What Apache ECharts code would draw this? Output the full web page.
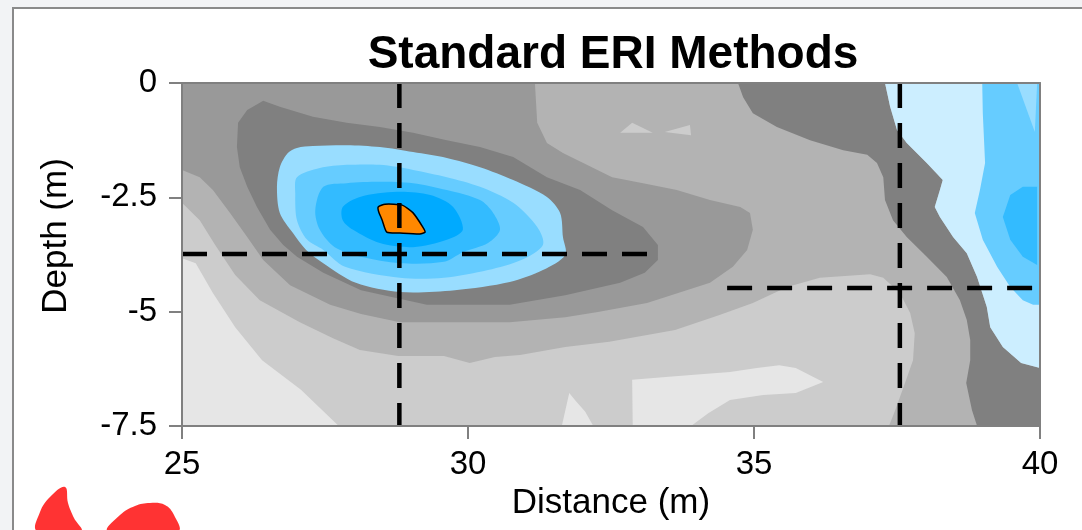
<!DOCTYPE html>
<html><head><meta charset="utf-8">
<script src="https://cdn.jsdelivr.net/npm/echarts@6/dist/echarts.min.js"></script>
<style>html,body{margin:0;padding:0;background:#f2f3f5;}#c{width:1082px;height:530px;}</style>
</head><body><div id="c"></div>
<script>
// ---- axis ticks ----
const xTicks = [25, 30, 35, 40];
const yTicks = [-7.5, -5, -2.5, 0];

// ---- contour regions: [distance (m), depth (m)] ----
const regionBase = [[25,0],[40,0],[40,-7.5],[25,-7.5]];
const regionGray80 = [[25,-2.62],[25.31,-3.00],[25.58,-3.54],[25.93,-4.20],[26.36,-4.75],[27.06,-5.23],[27.64,-5.58],[28.11,-5.84],[28.78,-5.97],[29.58,-5.97],[30.03,-6.12],[30.47,-5.99],[30.91,-5.95],[31.70,-5.77],[32.47,-5.66],[33.62,-5.40],[34.41,-5.07],[34.98,-4.81],[35.58,-4.46],[36.15,-4.26],[37.03,-4.18],[37.26,-4.26],[37.55,-4.59],[37.73,-5.03],[37.81,-5.47],[37.78,-6.06],[37.64,-6.56],[37.47,-7.15],[37.36,-7.5],[25,-7.5]];
const regionGray90Wedge = [[25,-3.83],[25.24,-3.94],[25.54,-4.59],[25.93,-5.34],[26.40,-6.06],[27.08,-6.71],[27.74,-7.5],[25,-7.5]];
const regionGray90Spike = [[31.64,-7.5],[31.77,-6.78],[31.87,-6.93],[32.05,-7.19],[32.19,-7.5]];
const regionGray90Patch = [[32.88,-7.5],[32.87,-6.49],[33.62,-6.41],[34.58,-6.32],[35.05,-6.23],[35.44,-6.17],[35.73,-6.23],[36.21,-6.54],[35.73,-6.78],[35.16,-6.82],[34.58,-6.93],[34.20,-7.22],[33.90,-7.5]];
const regionGray80TriA = [[32.66,-1.09],[32.87,-0.87],[33.23,-1.09]];
const regionGray80TriB = [[33.44,-1.07],[33.88,-0.92],[33.90,-1.14]];
const regionGray60 = [[25,0],[31.17,0],[31.21,-0.87],[31.38,-1.31],[31.66,-1.53],[32.52,-2.06],[33.06,-2.19],[33.65,-2.34],[34.23,-2.56],[34.76,-2.71],[34.93,-2.84],[34.98,-3.21],[34.88,-3.65],[34.63,-4.02],[34.23,-4.37],[33.13,-4.81],[32.27,-5.01],[31.70,-5.12],[30.73,-5.23],[29.58,-5.23],[28.81,-5.23],[28.13,-5.05],[27.59,-4.85],[26.89,-4.42],[26.42,-3.87],[26.14,-3.37],[25.84,-2.84],[25.54,-2.34],[25.31,-2.06],[25,-1.90]];
const regionGray50Left = [[26.42,-0.39],[26.71,-0.52],[27.29,-0.74],[27.88,-0.87],[28.46,-0.96],[29.04,-1.09],[29.63,-1.25],[30.21,-1.40],[30.79,-1.62],[31.38,-2.06],[31.96,-2.34],[32.52,-2.78],[33.06,-3.15],[33.32,-3.54],[33.32,-3.87],[33.09,-4.15],[32.66,-4.37],[31.70,-4.64],[30.73,-4.85],[29.28,-4.85],[28.13,-4.53],[27.47,-4.15],[27.01,-3.80],[26.77,-3.54],[26.54,-3.21],[26.31,-2.71],[26.14,-2.27],[26.01,-1.84],[25.96,-1.40],[25.98,-0.87],[26.14,-0.59]];
const regionGray50Right = [[34.72,0],[34.81,-0.31],[34.98,-0.66],[35.40,-0.96],[35.98,-1.25],[36.56,-1.47],[36.98,-1.57],[37.15,-1.75],[37.26,-2.06],[37.29,-2.56],[37.43,-3.00],[37.67,-3.37],[38.02,-3.80],[38.37,-4.24],[38.60,-4.75],[38.72,-5.18],[38.78,-5.62],[38.78,-6.06],[38.71,-6.56],[38.81,-7.15],[38.90,-7.5],[40,-7.5],[40,-6.23],[39.67,-6.12],[39.35,-5.77],[39.13,-5.34],[39.07,-4.90],[38.90,-4.24],[38.72,-3.72],[38.48,-3.37],[38.25,-2.93],[38.16,-2.71],[38.25,-2.34],[38.30,-2.12],[38.02,-1.75],[37.67,-1.31],[37.50,-1.03],[37.38,-0.52],[37.29,0]];
const regionBlue1Right = [[37.29,0],[37.38,-0.52],[37.50,-1.03],[37.67,-1.31],[38.02,-1.75],[38.30,-2.12],[38.25,-2.34],[38.16,-2.71],[38.25,-2.93],[38.48,-3.37],[38.72,-3.72],[38.90,-4.24],[39.07,-4.90],[39.13,-5.34],[39.35,-5.77],[39.67,-6.12],[40,-6.23],[40,0]];
const regionBlue3Right = [[38.99,0],[39.00,-0.66],[39.04,-1.75],[38.95,-2.34],[38.86,-2.84],[39.00,-3.43],[39.25,-4.02],[39.48,-4.46],[39.70,-4.75],[39.88,-4.85],[40,-4.85],[40,0]];
const regionBlue2Right = [[39.60,0],[39.91,-1.07],[39.95,0]];
const regionBlue4Right = [[39.48,-2.45],[39.70,-2.27],[39.95,-2.27],[39.95,-3.98],[39.70,-3.80],[39.48,-3.43],[39.35,-2.93]];
const regionBlue2Left = [[27.01,-1.42],[27.29,-1.38],[27.88,-1.36],[28.46,-1.40],[29.04,-1.51],[29.63,-1.64],[30.21,-1.84],[30.79,-2.12],[31.38,-2.49],[31.61,-2.84],[31.66,-3.37],[31.70,-3.76],[31.31,-4.09],[30.73,-4.35],[29.77,-4.53],[28.81,-4.57],[28.04,-4.37],[27.47,-3.94],[27.17,-3.65],[26.94,-3.28],[26.71,-2.84],[26.66,-2.27],[26.71,-1.84],[26.85,-1.53]];
const regionBlue3Left = [[27.01,-2.06],[27.41,-1.86],[27.88,-1.79],[28.46,-1.79],[29.04,-1.90],[29.63,-2.06],[30.21,-2.27],[30.79,-2.62],[31.21,-3.15],[31.31,-3.54],[30.93,-3.87],[30.35,-4.09],[29.58,-4.26],[28.81,-4.26],[27.85,-4.02],[27.47,-3.65],[27.19,-3.43],[27.01,-3.00],[26.98,-2.41]];
const regionBlue4Left = [[27.47,-2.27],[27.88,-2.19],[28.46,-2.16],[29.04,-2.19],[29.63,-2.34],[30.21,-2.56],[30.44,-2.84],[30.56,-3.21],[30.35,-3.50],[29.91,-3.70],[29.58,-3.91],[28.81,-3.94],[28.13,-3.80],[27.67,-3.59],[27.41,-3.21],[27.33,-2.78]];
const regionBlue5Left = [[27.81,-2.71],[28.11,-2.49],[28.76,-2.38],[29.34,-2.45],[29.74,-2.71],[29.91,-3.21],[29.63,-3.43],[29.04,-3.59],[28.46,-3.50],[27.99,-3.21],[27.81,-3.00]];
const regionOrange = [[28.43,-2.71],[28.55,-2.65],[28.85,-2.67],[29.04,-2.84],[29.21,-3.15],[29.25,-3.26],[29.16,-3.30],[28.81,-3.28],[28.58,-3.26],[28.50,-3.00],[28.44,-2.82]];

// ---- dashed guide lines ----
const guideV1 = [[28.8, 0], [28.8, -7.5]];
const guideV2 = [[37.55, 0], [37.55, -7.5]];
const guideH1 = [[25, -3.74], [33.22, -3.74]];
const guideH2 = [[34.53, -4.48], [40, -4.48]];

// ---- styling ----
const layers = [
  {pts: regionBase, fill: '#b3b3b3'},
  {pts: regionGray80, fill: '#cccccc'},
  {pts: regionGray90Wedge, fill: '#e6e6e6'},
  {pts: regionGray90Spike, fill: '#e6e6e6'},
  {pts: regionGray90Patch, fill: '#e6e6e6'},
  {pts: regionGray80TriA, fill: '#cccccc'},
  {pts: regionGray80TriB, fill: '#cccccc'},
  {pts: regionGray60, fill: '#999999'},
  {pts: regionGray50Left, fill: '#808080'},
  {pts: regionGray50Right, fill: '#808080'},
  {pts: regionBlue1Right, fill: '#cceeff'},
  {pts: regionBlue3Right, fill: '#66ccff'},
  {pts: regionBlue2Right, fill: '#99ddff'},
  {pts: regionBlue4Right, fill: '#33bbff'},
  {pts: regionBlue2Left, fill: '#99ddff', smooth: 0.3},
  {pts: regionBlue3Left, fill: '#66ccff', smooth: 0.3},
  {pts: regionBlue4Left, fill: '#33bbff', smooth: 0.3},
  {pts: regionBlue5Left, fill: '#00aaff', smooth: 0.3},
  {pts: regionOrange, fill: '#ff8800', stroke: '#000', lw: 1.5, smooth: 0.2}
];
const FONT = '"Liberation Sans", Arial, Helvetica, sans-serif';
const frameColor = '#808080';

const series = layers.map(function (L) {
  return {
    type: 'custom', coordinateSystem: 'cartesian2d', silent: true, clip: true,
    data: [0], z: 2,
    renderItem: function (params, api) {
      return {
        type: 'polygon',
        shape: {points: L.pts.map(function (p) { return api.coord(p); }), smooth: L.smooth || 0},
        style: {fill: L.fill, stroke: L.stroke || null, lineWidth: L.lw || 0}
      };
    }
  };
});
[guideV1, guideV2, guideH1, guideH2].forEach(function (d) {
  series.push({
    type: 'line', data: d, symbol: 'none', silent: true, z: 5,
    lineStyle: {color: '#000', width: 4.5, type: [25, 15]}
  });
});

function axisCommon(extra) {
  return Object.assign({
    type: 'value', splitLine: {show: false}, z: 10,
    axisLine: {show: true, onZero: false, lineStyle: {color: frameColor, width: 2}}
  }, extra);
}

const chart = echarts.init(document.getElementById('c'), null, {renderer: 'canvas'});
chart.setOption({
  animation: false,
  backgroundColor: '#f2f3f5',
  title: {
    text: 'Standard ERI Methods', left: 608, top: 27, textAlign: 'center',
    textStyle: {fontFamily: FONT, fontSize: 46, fontWeight: 'bold', color: '#000'}
  },
  grid: {left: 182, top: 83, width: 858, height: 343},
  graphic: [
    {type: 'rect', z: -10, shape: {x: 13, y: 8, width: 1200, height: 600}, style: {fill: '#fff', stroke: '#8a8a8a', lineWidth: 2}},
    {type: 'polygon', z: -5, shape: {points: [[37,531],[40,512],[50,497],[65,487],[68,503],[74,518],[81,531]], smooth: 0.4}, style: {fill: '#ff3333'}},
    {type: 'polygon', z: -5, shape: {points: [[108,531],[120,515],[135,506],[150,503],[165,505],[174,515],[178,531]], smooth: 0.4}, style: {fill: '#ff3333'}},
    {type: 'text', z: 20, x: 56, y: 236, rotation: Math.PI / 2,
     style: {text: 'Depth (m)', font: '35px ' + FONT, fill: '#000', textAlign: 'center', textVerticalAlign: 'middle'}}
  ],
  xAxis: [
    axisCommon({
      position: 'bottom', min: xTicks[0], max: xTicks[xTicks.length - 1], interval: xTicks[1] - xTicks[0],
      name: 'Distance (m)', nameLocation: 'middle', nameGap: 60,
      nameTextStyle: {fontFamily: FONT, fontSize: 35, color: '#000'},
      axisTick: {show: true, inside: false, length: 13, lineStyle: {color: frameColor, width: 2}},
      axisLabel: {fontFamily: FONT, fontSize: 33, color: '#000', margin: 22}
    }),
    axisCommon({position: 'top', min: xTicks[0], max: xTicks[xTicks.length - 1], axisTick: {show: false}, axisLabel: {show: false}})
  ],
  yAxis: [
    axisCommon({
      position: 'left', min: yTicks[0], max: yTicks[yTicks.length - 1], interval: yTicks[1] - yTicks[0],
      axisTick: {show: true, inside: false, length: 13, lineStyle: {color: frameColor, width: 2}},
      axisLabel: {fontFamily: FONT, fontSize: 33, color: '#000', margin: 25}
    }),
    axisCommon({position: 'right', min: yTicks[0], max: yTicks[yTicks.length - 1], axisTick: {show: false}, axisLabel: {show: false}})
  ],
  series: series
});
</script></body></html>
